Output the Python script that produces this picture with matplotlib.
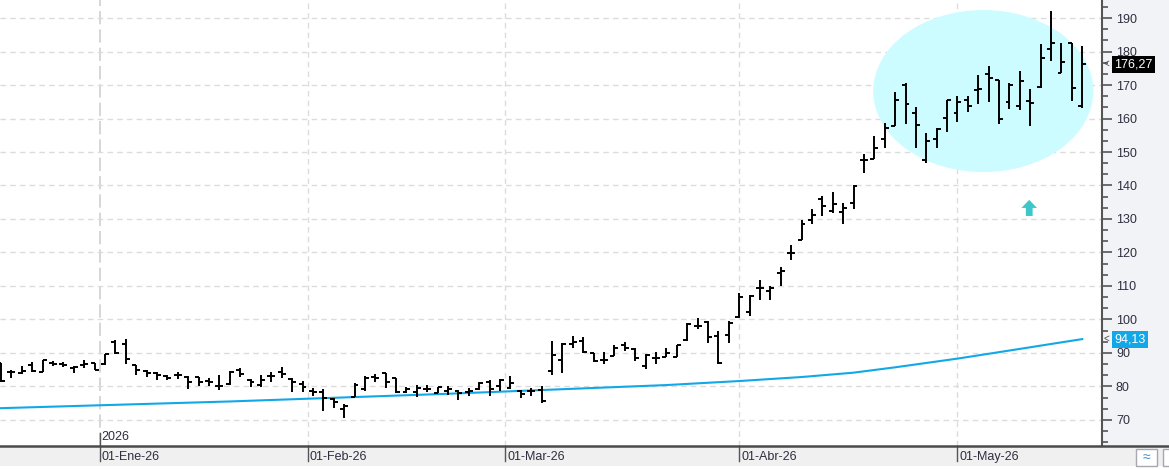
import numpy as np
import matplotlib.pyplot as plt
import matplotlib.transforms as mtransforms
from matplotlib.patches import Ellipse, Rectangle
from matplotlib.lines import Line2D
from matplotlib.ticker import MultipleLocator

plt.rcParams['font.family'] = ['Liberation Sans', 'DejaVu Sans']

# daily OHLC bars (17-Dic-25 .. 19-May-26)
opens = [87.0, 84.2, 84.0, 86.5, 84.2, 87.0, 86.8, 85.5, 86.5, 87.0,
         86.7, 93.2, 92.8, 86.5, 84.5, 84.0, 83.0, 83.5, 82.8, 82.8,
         81.5, 80.0, 80.7, 85.0, 82.0, 80.4, 83.2, 84.2, 82.2, 80.7,
         78.7, 78.4, 76.2, 73.2, 76.9, 79.2, 82.7, 83.9, 82.4, 78.2,
         78.2, 79.2, 78.0, 78.5, 78.6, 78.3, 79.1, 81.3, 80.1, 79.6,
         78.6, 78.6, 78.9, 84.7, 88.0, 92.8, 93.6, 90.1, 87.8, 89.2,
         92.4, 91.2, 86.2, 88.5, 88.9, 88.8, 93.8, 98.1, 99.1, 95.1,
         95.4, 100.7, 102.2, 109.4, 108.6, 113.9, 119.9, 123.8, 129.6, 136.0,
         132.3, 132.1, 134.8, 147.6, 147.8, 153.8, 157.8, 170.0, 161.8, 147.5,
         153.8, 160.1, 161.8, 165.6, 168.6, 173.4, 171.4, 164.9, 163.8, 165.1,
         169.4, 180.7, 173.7, 182.5, 163.6]
highs = [87.0, 85.0, 86.2, 87.3, 88.0, 87.7, 87.2, 86.0, 87.8, 87.0,
         89.8, 93.8, 94.2, 86.5, 85.0, 84.3, 83.5, 84.2, 83.0, 82.8,
         82.5, 83.5, 84.5, 85.5, 82.2, 83.4, 84.2, 85.7, 82.4, 81.7,
         79.4, 79.2, 76.4, 74.7, 80.9, 83.0, 83.7, 84.0, 82.4, 79.7,
         80.4, 80.4, 79.7, 80.2, 78.9, 79.6, 81.3, 81.9, 82.3, 83.1,
         78.9, 79.6, 80.1, 93.5, 93.0, 95.1, 94.9, 90.1, 90.3, 92.5,
         93.2, 91.4, 89.7, 90.2, 91.5, 92.5, 98.8, 100.5, 99.4, 96.4,
         99.4, 107.9, 107.4, 111.9, 109.9, 115.7, 122.1, 129.8, 133.0, 137.0,
         138.1, 134.8, 140.0, 149.4, 154.8, 158.6, 167.9, 170.5, 163.4, 155.8,
         157.1, 165.6, 166.6, 166.8, 173.1, 175.7, 171.4, 170.6, 174.2, 168.8,
         182.3, 192.2, 182.5, 182.5, 181.7]
lows = [81.2, 82.5, 83.7, 84.2, 84.2, 86.0, 85.8, 84.0, 85.4, 84.8,
        86.5, 89.8, 86.8, 83.5, 82.8, 82.0, 81.8, 82.2, 79.3, 80.0,
        80.0, 79.0, 80.5, 82.7, 79.7, 79.7, 81.4, 82.4, 78.2, 78.2,
        77.0, 72.7, 73.4, 70.7, 76.7, 78.7, 81.4, 79.4, 77.9, 77.9,
        76.7, 78.4, 78.0, 77.5, 75.9, 77.1, 78.9, 77.1, 78.6, 79.1,
        76.6, 77.1, 75.1, 83.5, 84.1, 91.5, 90.1, 87.3, 86.8, 89.0,
        90.5, 87.5, 85.2, 86.7, 88.8, 88.8, 93.7, 97.2, 93.1, 86.8,
        92.9, 100.4, 100.9, 105.7, 105.7, 110.1, 117.7, 123.6, 128.6, 130.8,
        131.8, 128.5, 133.0, 143.8, 147.8, 151.1, 157.8, 158.3, 151.1, 146.6,
        151.1, 156.1, 159.1, 162.1, 164.4, 164.8, 158.4, 162.8, 162.4, 157.8,
        169.1, 177.2, 173.5, 165.1, 163.0]
closes = [81.6, 84.2, 84.5, 84.5, 87.8, 86.7, 86.5, 85.8, 86.7, 85.0,
          89.8, 90.0, 88.2, 85.0, 84.0, 83.5, 82.5, 83.5, 81.2, 81.2,
          81.2, 80.0, 84.2, 83.7, 81.2, 82.0, 83.2, 83.7, 81.2, 79.7,
          78.4, 76.4, 75.2, 74.2, 80.5, 82.5, 82.4, 81.4, 78.2, 79.2,
          79.4, 79.2, 79.7, 79.2, 78.1, 78.6, 80.9, 79.3, 81.9, 80.9,
          77.6, 78.6, 75.6, 89.5, 92.8, 93.3, 90.4, 87.5, 87.9, 91.5,
          91.5, 88.5, 89.5, 88.6, 90.1, 92.5, 98.5, 97.9, 94.7, 86.9,
          98.9, 106.7, 107.1, 109.4, 109.4, 114.4, 119.9, 128.6, 131.3, 134.0,
          134.6, 133.3, 139.8, 147.6, 151.1, 157.1, 165.6, 164.3, 158.1, 153.3,
          156.8, 165.4, 164.9, 163.8, 168.8, 172.1, 159.9, 170.1, 171.1, 164.6,
          178.0, 182.5, 176.8, 169.1, 176.27]

# long moving average, read at a few bars
ma_idx = [0, 22, 43, 64, 71, 77, 82, 86, 92, 98, 104]
ma_vals = [73.5, 75.5, 77.8, 80.4, 81.6, 82.8, 84.1, 85.7, 88.3, 91.2, 94.13]

month_pos = [9.5, 29.5, 48.5, 71, 92]
month_labels = ['01-Ene-26', '01-Feb-26', '01-Mar-26', '01-Abr-26', '01-May-26']

W, H = 1169, 469
fig = plt.figure(figsize=(W / 100, H / 100), dpi=100)
fig.patch.set_facecolor('white')
ax = fig.add_axes([0, 23 / H, 1102 / W, 446 / H])
ax.set_xlim(-0.1, 105.9)
ax.set_ylim(62.2, 195.4)

# panels around the plot
fig.patches.append(Rectangle((1103 / W, 23 / H), 66 / W, 446 / H, transform=fig.transFigure,
                             fc='#f2f3f7', ec='none', zorder=-1))
fig.patches.append(Rectangle((0, 3 / H), 1, 20 / H, transform=fig.transFigure,
                             fc='#f0f0f0', ec='none', zorder=-1))
fig.lines.append(Line2D([0, 1], [23 / H, 23 / H], transform=fig.transFigure,
                        color='#4a4a4a', lw=1.8, zorder=5))

# highlight ellipse and arrow
ax.add_patch(Ellipse((94.48, 168.2), 21.17, 48.4, fc='#ccfcff', ec='none', zorder=1))
ax.arrow(98.9, 130.9, 0, 4.8, width=0.65, head_width=1.5, head_length=2.4,
         length_includes_head=True, color='#3cc8c8', lw=0, zorder=5)

# grid
ax.set_yticks(range(70, 200, 10))
ax.yaxis.set_minor_locator(MultipleLocator(10 / 3))
ax.yaxis.grid(True, linestyle=(0, (4, 3)), color='#dcdcdc', lw=1)
ax.set_axisbelow(True)
for i, p in enumerate(month_pos):
    if i == 0:
        ax.axvline(p, color='#cfcfcf', lw=1.2, linestyle=(0, (8, 3)), zorder=0.5)
    else:
        ax.axvline(p, color='#dcdcdc', lw=1, linestyle=(0, (4, 3)), zorder=0.5)

# moving average
ax.plot(ma_idx, ma_vals, color='#12a8e8', lw=1.5, zorder=3)

# OHLC bars
x = np.arange(len(opens))
tk = 0.38
ax.vlines(x, lows, highs, color='black', lw=1.4, zorder=4)
ax.hlines(opens, x - tk, x, color='black', lw=1.4, zorder=4)
ax.hlines(closes, x, x + tk, color='black', lw=1.4, zorder=4)

# axes styling
ax.yaxis.tick_right()
ax.tick_params(axis='y', which='major', length=7, width=1.2, color='#555555', pad=3,
               labelsize=9, labelcolor='#2e2e40')
ax.tick_params(axis='y', which='minor', length=4, width=1.2, color='#555555')
ax.set_xticks([])
for s in ['left', 'top', 'bottom']:
    ax.spines[s].set_visible(False)
ax.spines['right'].set_color('#555555')
ax.spines['right'].set_linewidth(1.5)

# date labels in bottom band
bt = mtransforms.blended_transform_factory(ax.transData, fig.transFigure)
off = mtransforms.ScaledTranslation(2 / 100, 0, fig.dpi_scale_trans)
for p, lab in zip(month_pos, month_labels):
    ax.plot([p, p], [23 / H, 8 / H], transform=bt, color='#555555', lw=1, clip_on=False, zorder=6)
    ax.text(p, 12 / H, lab, transform=bt + off, ha='left', va='center', fontsize=9,
            color='#2e2e40', clip_on=False)
ax.plot([month_pos[0], month_pos[0]], [36 / H, 23 / H], transform=bt, color='#555555', lw=1,
        clip_on=False, zorder=6)
ax.text(month_pos[0], 32 / H, '2026', transform=bt + off, ha='left', va='center',
        fontsize=9, color='#2e2e40', clip_on=False)

# last value labels on the price axis
rt = mtransforms.blended_transform_factory(ax.transAxes, ax.transData)
for val, txt, bg in [(closes[-1], '176,27', 'black'), (ma_vals[-1], '94,13', '#12a8e8')]:
    ax.text(1.0 + 12 / 1102, val, txt, transform=rt, color='white', fontsize=9,
            ha='left', va='center', clip_on=False, zorder=10,
            bbox=dict(boxstyle='square,pad=0.2', fc=bg, ec='none'))
    ax.text(1.0 + 1 / 1102, val, '<', transform=rt, color='#444444', fontsize=7,
            ha='left', va='center', clip_on=False, zorder=10)

# small button in the corner
fig.patches.append(Rectangle((1136 / W, 3 / H), 21 / W, 17 / H, transform=fig.transFigure,
                             fc='white', ec='#a8a8b0', lw=1, zorder=6))
fig.patches.append(Rectangle((1163 / W, 3 / H), 10 / W, 17 / H, transform=fig.transFigure,
                             fc='white', ec='#a8a8b0', lw=1, zorder=6))
fig.text(1146.5 / W, 11.5 / H, '≈', color='#3a8fd0', fontsize=10, ha='center', va='center',
         zorder=7)

fig.savefig('out.png', dpi=100)
